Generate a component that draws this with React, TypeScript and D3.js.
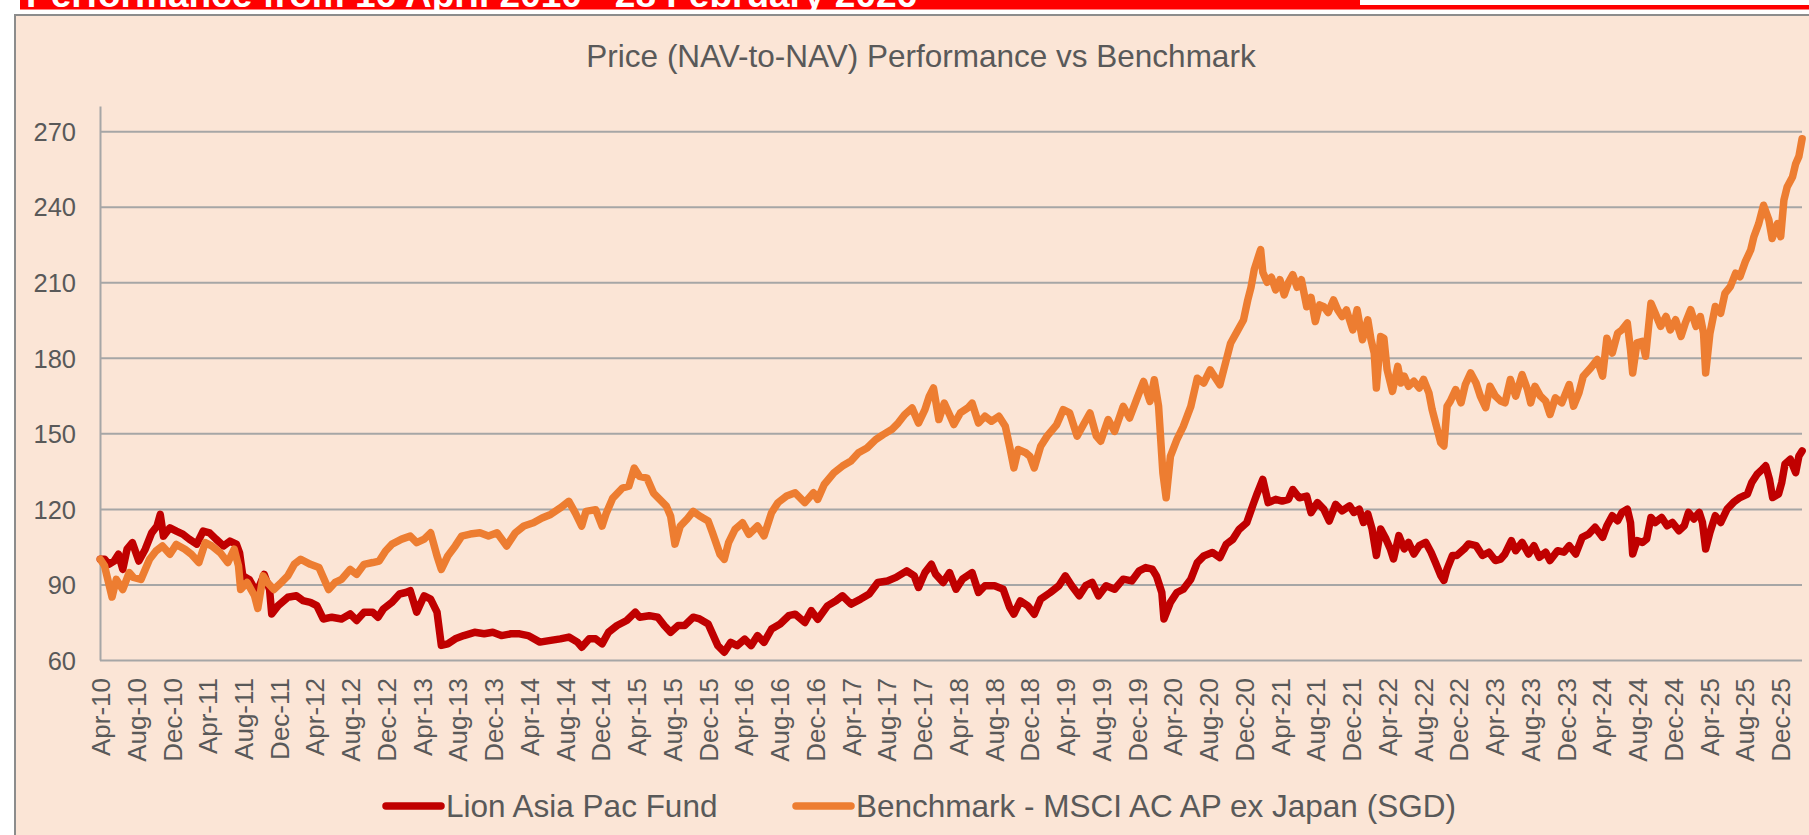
import React, { useEffect, useRef } from 'react';
import * as d3 from 'd3';

const WIDTH = 1809;
const HEIGHT = 835;

const chartTitle = 'Price (NAV-to-NAV) Performance vs Benchmark';
const headerText = 'Performance from 16 April 2010 - 28 February 2026';
const seriesNames = ['Lion Asia Pac Fund', 'Benchmark - MSCI AC AP ex Japan (SGD)'];
const seriesColors = ['#C00000', '#ED7D31'];

const yTicks = [60, 90, 120, 150, 180, 210, 240, 270];
const xTickLabels = [
  'Apr-10', 'Aug-10', 'Dec-10', 'Apr-11', 'Aug-11', 'Dec-11', 'Apr-12', 'Aug-12', 'Dec-12',
  'Apr-13', 'Aug-13', 'Dec-13', 'Apr-14', 'Aug-14', 'Dec-14', 'Apr-15', 'Aug-15', 'Dec-15',
  'Apr-16', 'Aug-16', 'Dec-16', 'Apr-17', 'Aug-17', 'Dec-17', 'Apr-18', 'Aug-18', 'Dec-18',
  'Apr-19', 'Aug-19', 'Dec-19', 'Apr-20', 'Aug-20', 'Dec-20', 'Apr-21', 'Aug-21', 'Dec-21',
  'Apr-22', 'Aug-22', 'Dec-22', 'Apr-23', 'Aug-23', 'Dec-23', 'Apr-24', 'Aug-24', 'Dec-24',
  'Apr-25', 'Aug-25', 'Dec-25',
];

// [decimal year, rebased NAV]
const fundPoints: [number, number][] = [
  [2010.29, 100], [2010.33, 100], [2010.37, 98], [2010.42, 99.3], [2010.46, 102], [2010.5, 96],
  [2010.54, 104], [2010.59, 106.6], [2010.65, 99.3], [2010.71, 104], [2010.77, 110.5], [2010.82, 113.2],
  [2010.85, 117.8], [2010.88, 109.2], [2010.94, 112.5], [2011.0, 111.2], [2011.06, 110], [2011.12, 108],
  [2011.19, 106], [2011.25, 111.2], [2011.31, 110.5], [2011.37, 108], [2011.44, 105.3], [2011.5, 107.2],
  [2011.56, 106], [2011.59, 102.6], [2011.62, 93.4], [2011.68, 92], [2011.75, 86.8], [2011.82, 94],
  [2011.87, 88], [2011.89, 78.3], [2011.95, 81.6], [2012.04, 84.9], [2012.12, 85.5], [2012.18, 83.6],
  [2012.25, 82.9], [2012.31, 81.6], [2012.37, 76.3], [2012.45, 77], [2012.54, 76.3], [2012.62, 78.3],
  [2012.68, 75.7], [2012.75, 79], [2012.83, 79], [2012.88, 77], [2012.93, 80.3], [2013.01, 82.9],
  [2013.08, 86.2], [2013.14, 86.8], [2013.18, 87.5], [2013.24, 79], [2013.31, 85.5], [2013.37, 84.2],
  [2013.43, 79], [2013.47, 65.8], [2013.53, 66.4], [2013.6, 68.4], [2013.68, 69.7], [2013.78, 71],
  [2013.87, 70.4], [2013.95, 71], [2014.03, 69.7], [2014.12, 70.4], [2014.2, 70.4], [2014.28, 69.7],
  [2014.39, 67.1], [2014.49, 67.8], [2014.58, 68.4], [2014.66, 69.1], [2014.74, 67.1], [2014.78, 65.1],
  [2014.85, 68.4], [2014.91, 68.4], [2014.97, 66.4], [2015.03, 71], [2015.11, 73.7], [2015.2, 75.7],
  [2015.28, 79], [2015.32, 77], [2015.41, 77.6], [2015.49, 77], [2015.55, 73.7], [2015.61, 71],
  [2015.68, 73.7], [2015.74, 73.7], [2015.82, 77], [2015.88, 76.3], [2015.96, 74.3], [2016.05, 65.7],
  [2016.11, 63.1], [2016.17, 67], [2016.23, 65.7], [2016.3, 68.3], [2016.36, 65.7], [2016.42, 69.7],
  [2016.48, 67], [2016.55, 72.3], [2016.63, 74.3], [2016.71, 77.6], [2016.77, 78.2], [2016.86, 74.9],
  [2016.92, 79.6], [2016.98, 76.2], [2017.07, 81.5], [2017.15, 83.5], [2017.21, 85.5], [2017.29, 82.2],
  [2017.38, 84.2], [2017.46, 86.2], [2017.54, 90.8], [2017.63, 91.4], [2017.71, 92.8], [2017.81, 95.4],
  [2017.88, 93.4], [2017.92, 88.8], [2017.98, 94.7], [2018.04, 98], [2018.08, 94.1], [2018.15, 90.8],
  [2018.21, 94.7], [2018.27, 88.1], [2018.33, 92.1], [2018.42, 94.7], [2018.48, 86.8], [2018.54, 89.5],
  [2018.63, 89.5], [2018.71, 88.1], [2018.77, 80.9], [2018.81, 78.2], [2018.87, 83.5], [2018.94, 81.5],
  [2019.0, 78.2], [2019.06, 84.2], [2019.15, 86.8], [2019.23, 89.5], [2019.29, 93.4], [2019.35, 89.5],
  [2019.42, 85.5], [2019.48, 89.5], [2019.54, 90.8], [2019.6, 85.5], [2019.67, 89.5], [2019.75, 88.1],
  [2019.83, 92.1], [2019.91, 91.4], [2019.98, 95.4], [2020.04, 96.7], [2020.1, 96.1], [2020.14, 93.4],
  [2020.19, 86.8], [2020.21, 76.3], [2020.27, 82.9], [2020.33, 86.8], [2020.39, 88.1], [2020.46, 92.1],
  [2020.52, 98.7], [2020.58, 101.3], [2020.66, 102.7], [2020.73, 100.7], [2020.79, 106], [2020.85, 107.9],
  [2020.91, 111.9], [2020.98, 114.5], [2021.04, 121.8], [2021.08, 126.4], [2021.13, 131.7], [2021.18, 122.5],
  [2021.25, 123.8], [2021.31, 123.1], [2021.37, 123.8], [2021.41, 127.7], [2021.47, 124.4], [2021.54, 125.1],
  [2021.58, 118.5], [2021.64, 122.5], [2021.7, 119.8], [2021.75, 115.2], [2021.81, 121.8], [2021.87, 119.2],
  [2021.94, 121.2], [2021.98, 118.6], [2022.03, 119.9], [2022.07, 114.6], [2022.11, 118], [2022.15, 112],
  [2022.19, 101.5], [2022.23, 112], [2022.28, 108], [2022.32, 104.1], [2022.35, 100.1], [2022.4, 109.4],
  [2022.45, 104.1], [2022.49, 106.7], [2022.54, 102.1], [2022.59, 105.4], [2022.65, 106.7], [2022.7, 102.8],
  [2022.74, 98.8], [2022.79, 93.6], [2022.82, 91.6], [2022.85, 96.2], [2022.9, 101.5], [2022.94, 101.5],
  [2023.01, 104.1], [2023.05, 106.1], [2023.12, 105.4], [2023.18, 101.5], [2023.24, 102.8], [2023.3, 99.5],
  [2023.35, 100.1], [2023.39, 102.1], [2023.45, 107.4], [2023.49, 103.4], [2023.55, 106.7], [2023.61, 102.1],
  [2023.66, 105.4], [2023.71, 100.8], [2023.77, 102.8], [2023.81, 99.5], [2023.88, 103.4], [2023.94, 102.8],
  [2023.99, 105.4], [2024.05, 102.1], [2024.11, 108.7], [2024.17, 110], [2024.23, 112.7], [2024.3, 108.7],
  [2024.34, 113.3], [2024.39, 117.3], [2024.44, 115.3], [2024.48, 118.6], [2024.53, 119.9], [2024.56, 114.6],
  [2024.58, 102.1], [2024.62, 107.4], [2024.67, 106.7], [2024.71, 108], [2024.75, 116.6], [2024.79, 114.6],
  [2024.85, 116.6], [2024.9, 113.3], [2024.95, 114.6], [2025.01, 111.3], [2025.06, 113.3], [2025.1, 118.6],
  [2025.15, 116], [2025.2, 118.6], [2025.23, 114.6], [2025.26, 104.1], [2025.3, 110.7], [2025.35, 117.3],
  [2025.4, 114.6], [2025.46, 119.9], [2025.52, 122.6], [2025.58, 124.5], [2025.65, 125.9], [2025.69, 130.5],
  [2025.74, 133.8], [2025.79, 135.8], [2025.82, 137.1], [2025.855, 131.8], [2025.885, 124.5], [2025.94, 125.9],
  [2025.97, 130.5], [2026.0, 137.8], [2026.05, 139.7], [2026.1, 134.4], [2026.13, 141], [2026.16, 143],
];

const benchmarkPoints: [number, number][] = [
  [2010.29, 100], [2010.33, 97.4], [2010.4, 85], [2010.44, 92], [2010.5, 88], [2010.56, 94.7],
  [2010.6, 92.8], [2010.67, 92], [2010.75, 100], [2010.81, 103.3], [2010.87, 105.3], [2010.94, 102],
  [2011.0, 105.9], [2011.08, 104], [2011.14, 102], [2011.21, 98.7], [2011.27, 106.6], [2011.33, 105.3],
  [2011.41, 102.6], [2011.48, 98.7], [2011.54, 104], [2011.58, 97.4], [2011.6, 88], [2011.66, 90.8],
  [2011.73, 85.5], [2011.76, 80.5], [2011.81, 93.4], [2011.85, 90.8], [2011.91, 88], [2011.98, 90.8],
  [2012.04, 93.4], [2012.1, 98], [2012.16, 100], [2012.25, 98], [2012.33, 96.7], [2012.42, 88],
  [2012.48, 90.8], [2012.54, 92], [2012.62, 96], [2012.68, 94], [2012.75, 98], [2012.83, 98.7],
  [2012.89, 99.3], [2012.95, 103.3], [2013.01, 106], [2013.1, 108], [2013.18, 109.2], [2013.24, 106.6],
  [2013.31, 108], [2013.37, 110.5], [2013.43, 101.3], [2013.47, 96], [2013.53, 101.3], [2013.6, 105.3],
  [2013.66, 109.2], [2013.74, 110], [2013.83, 110.5], [2013.91, 109.2], [2013.99, 110.5], [2014.08, 105.3],
  [2014.16, 110.5], [2014.24, 113.2], [2014.33, 114.5], [2014.41, 116.4], [2014.49, 117.8], [2014.58, 120.4],
  [2014.66, 123], [2014.72, 118.4], [2014.78, 113.2], [2014.82, 119], [2014.91, 119.7], [2014.97, 113.2],
  [2015.01, 118.4], [2015.07, 124.3], [2015.16, 128.3], [2015.22, 129], [2015.27, 136.2], [2015.32, 132.9],
  [2015.39, 132.2], [2015.45, 126.3], [2015.51, 123.7], [2015.57, 121.1], [2015.61, 117.1], [2015.65, 106],
  [2015.7, 113.2], [2015.76, 115.8], [2015.82, 119], [2015.88, 117.2], [2015.96, 115.2], [2016.0, 110.6],
  [2016.07, 102], [2016.11, 100], [2016.15, 106.6], [2016.21, 111.9], [2016.28, 114.5], [2016.34, 109.9],
  [2016.42, 113.2], [2016.48, 109.3], [2016.55, 118.5], [2016.61, 122.5], [2016.69, 125.1], [2016.77, 126.4],
  [2016.86, 122.5], [2016.94, 126.4], [2016.98, 123.8], [2017.04, 129.7], [2017.13, 134.3], [2017.21, 137],
  [2017.29, 139], [2017.36, 142.3], [2017.44, 144.2], [2017.52, 147.5], [2017.59, 149.5], [2017.67, 151.5],
  [2017.73, 154.1], [2017.79, 157.4], [2017.86, 160.1], [2017.92, 154.1], [2017.98, 159.4], [2018.02, 164.7],
  [2018.06, 168], [2018.11, 155.5], [2018.16, 162], [2018.21, 157.4], [2018.25, 153.5], [2018.31, 158.1],
  [2018.38, 160.1], [2018.42, 162], [2018.48, 154.1], [2018.54, 156.8], [2018.6, 154.8], [2018.67, 156.8],
  [2018.73, 152.8], [2018.77, 144.9], [2018.81, 136.3], [2018.85, 143.6], [2018.92, 142.3], [2018.96, 140.9],
  [2019.0, 136.3], [2019.06, 144.9], [2019.12, 148.9], [2019.21, 153.5], [2019.27, 159.4], [2019.33, 158.1],
  [2019.4, 148.9], [2019.46, 153.5], [2019.52, 158.1], [2019.58, 148.9], [2019.62, 146.9], [2019.69, 155.5],
  [2019.75, 150.8], [2019.83, 160.7], [2019.89, 156.1], [2019.96, 164], [2020.02, 170.6], [2020.08, 162.7],
  [2020.12, 171.3], [2020.16, 160.7], [2020.2, 134.3], [2020.23, 124.4], [2020.27, 140.9], [2020.33, 147.5],
  [2020.39, 152.8], [2020.46, 160.7], [2020.52, 171.9], [2020.58, 170], [2020.64, 175.2], [2020.73, 169.3],
  [2020.79, 179.2], [2020.83, 185.8], [2020.89, 190.4], [2020.95, 195], [2020.99, 203], [2021.02, 208],
  [2021.05, 215], [2021.08, 219], [2021.11, 223], [2021.13, 214], [2021.17, 210], [2021.21, 212],
  [2021.25, 207], [2021.29, 211], [2021.33, 205], [2021.37, 210], [2021.41, 213], [2021.45, 208],
  [2021.49, 211], [2021.54, 200.3], [2021.58, 204], [2021.62, 194.4], [2021.66, 201], [2021.7, 200.3],
  [2021.74, 198], [2021.79, 203], [2021.83, 199], [2021.87, 196.4], [2021.91, 199], [2021.94, 195.1],
  [2021.97, 191.1], [2022.01, 199.1], [2022.06, 187.2], [2022.11, 195.1], [2022.14, 187.2], [2022.17, 181.9],
  [2022.19, 168], [2022.23, 188.5], [2022.26, 187.8], [2022.29, 175.3], [2022.34, 166.7], [2022.39, 176.6],
  [2022.42, 170], [2022.45, 172.7], [2022.49, 168.7], [2022.54, 170.7], [2022.59, 168], [2022.63, 171.4],
  [2022.68, 166.1], [2022.71, 159.5], [2022.75, 152.9], [2022.79, 146.3], [2022.82, 145], [2022.85, 160.8],
  [2022.88, 162.8], [2022.93, 167.4], [2022.98, 162.1], [2023.02, 169.4], [2023.07, 174], [2023.12, 170],
  [2023.16, 164.8], [2023.21, 160.2], [2023.25, 168.7], [2023.3, 164.8], [2023.35, 162.8], [2023.39, 162.1],
  [2023.44, 171.4], [2023.49, 164.8], [2023.55, 173.3], [2023.6, 167.4], [2023.63, 162.1], [2023.67, 168.7],
  [2023.72, 164.8], [2023.77, 162.8], [2023.81, 157.5], [2023.86, 164.1], [2023.92, 162.1], [2023.99, 169.4],
  [2024.03, 160.8], [2024.08, 166.1], [2024.12, 172.7], [2024.19, 176], [2024.25, 179.3], [2024.3, 172.7],
  [2024.34, 187.8], [2024.39, 181.9], [2024.44, 189.8], [2024.48, 191.1], [2024.53, 193.8], [2024.56, 183.2],
  [2024.58, 174], [2024.62, 185.9], [2024.67, 186.5], [2024.7, 180.6], [2024.75, 201.7], [2024.79, 197.7],
  [2024.84, 192.5], [2024.89, 196.4], [2024.93, 191.1], [2024.98, 195.1], [2025.03, 188.5], [2025.07, 193.8],
  [2025.12, 199.1], [2025.17, 192.5], [2025.21, 196.4], [2025.24, 189.8], [2025.26, 174], [2025.3, 189.8],
  [2025.35, 200.4], [2025.4, 197.7], [2025.44, 205.6], [2025.49, 208.3], [2025.54, 213.6], [2025.58, 212.2],
  [2025.63, 218.2], [2025.68, 222.8], [2025.71, 228.1], [2025.755, 233.3], [2025.8, 240.6], [2025.85, 234.7],
  [2025.88, 227.4], [2025.93, 233.3], [2025.96, 228.1], [2025.99, 242.6], [2026.02, 247.8], [2026.07, 251.8],
  [2026.1, 257.1], [2026.13, 260], [2026.16, 267],
];

const FONT = '"Liberation Sans", Arial, Helvetica, sans-serif';
const TEXT = '#595959';
const GRID = '#A6A6A6';

const toDate = (t: number) => {
  const yr = Math.floor(t);
  const a = new Date(yr, 0, 1).getTime();
  const b = new Date(yr + 1, 0, 1).getTime();
  return new Date(a + (t - yr) * (b - a));
};

const parseTick = d3.timeParse('%b-%y');

const App: React.FC = () => {
  const svgRef = useRef<SVGSVGElement>(null);

  useEffect(() => {
    if (!svgRef.current) return;
    const svg = d3.select(svgRef.current);
    svg.selectAll('*').remove();

    // page header strip and frame
    svg.append('rect').attr('width', WIDTH).attr('height', HEIGHT).attr('fill', '#ffffff');
    svg.append('rect').attr('x', 20).attr('y', 0).attr('width', 1340).attr('height', 9.5).attr('fill', '#FF0000');
    svg.append('rect').attr('x', 1360).attr('y', 5).attr('width', 449).attr('height', 4.5).attr('fill', '#FF0000');
    svg.append('text')
      .attr('x', 26).attr('y', 7)
      .attr('fill', '#ffffff')
      .attr('font-family', FONT).attr('font-weight', 'bold').attr('font-size', 37)
      .text(headerText);

    svg.append('rect').attr('x', 15).attr('y', 15).attr('width', WIDTH - 15).attr('height', HEIGHT - 15).attr('fill', '#FBE5D6');
    svg.append('path')
      .attr('d', `M15,${HEIGHT} V15 H${WIDTH}`)
      .attr('fill', 'none').attr('stroke', '#8C8C8C').attr('stroke-width', 2);

    svg.append('text')
      .attr('x', 921).attr('y', 66.5)
      .attr('text-anchor', 'middle')
      .attr('fill', TEXT).attr('font-family', FONT).attr('font-size', 31.5)
      .text(chartTitle);

    const xScale = d3.scaleTime()
      .domain([new Date(2010, 3, 16), new Date(2026, 1, 28)])
      .range([100, 1802]);
    const yScale = d3.scaleLinear().domain([60, 280]).range([660, 106]);

    // y axis with gridlines
    const yAxis = svg.append('g')
      .attr('transform', 'translate(100,0)')
      .call(d3.axisLeft(yScale).tickValues(yTicks).tickSize(-1702).tickSizeOuter(0).tickPadding(24));
    yAxis.select('.domain').attr('stroke', GRID).attr('stroke-width', 2);
    yAxis.selectAll('line').attr('stroke', GRID).attr('stroke-width', 2);
    yAxis.selectAll('text')
      .attr('fill', TEXT).attr('font-family', FONT).attr('font-size', 25.5).attr('dy', '0.36em');

    // x axis labels
    const tickDates = xTickLabels.map(l => d3.timeDay.offset(parseTick(l) as Date, 15));
    const xAxis = svg.append('g')
      .attr('transform', 'translate(0,660)')
      .call(d3.axisBottom(xScale).tickValues(tickDates).tickSize(0)
        .tickFormat((_d, i) => xTickLabels[i]));
    xAxis.select('.domain').remove();
    xAxis.selectAll('text')
      .attr('transform', 'rotate(-90)')
      .attr('x', -18).attr('y', 0).attr('dy', '0.36em')
      .attr('text-anchor', 'end')
      .attr('fill', TEXT).attr('font-family', FONT).attr('font-size', 26);

    const line = d3.line<[number, number]>()
      .x(d => xScale(toDate(d[0])))
      .y(d => yScale(d[1]));

    [fundPoints, benchmarkPoints].forEach((pts, i) => {
      svg.append('path')
        .datum(pts)
        .attr('fill', 'none')
        .attr('stroke', seriesColors[i])
        .attr('stroke-width', 7.5)
        .attr('stroke-linejoin', 'round')
        .attr('stroke-linecap', 'round')
        .attr('d', line);
    });

    // legend
    const legendX = [386, 796];
    seriesNames.forEach((name, i) => {
      svg.append('line')
        .attr('x1', legendX[i]).attr('x2', legendX[i] + 55)
        .attr('y1', 806).attr('y2', 806)
        .attr('stroke', seriesColors[i]).attr('stroke-width', 7.5).attr('stroke-linecap', 'round');
      svg.append('text')
        .attr('x', legendX[i] + 60).attr('y', 816.5)
        .attr('fill', TEXT).attr('font-family', FONT).attr('font-size', 31.5)
        .text(name);
    });
  }, []);

  return (
    <div style={{ position: 'absolute', left: 0, top: 0 }}>
      <svg ref={svgRef} width={WIDTH} height={HEIGHT} style={{ display: 'block' }} />
    </div>
  );
};

export default App;
